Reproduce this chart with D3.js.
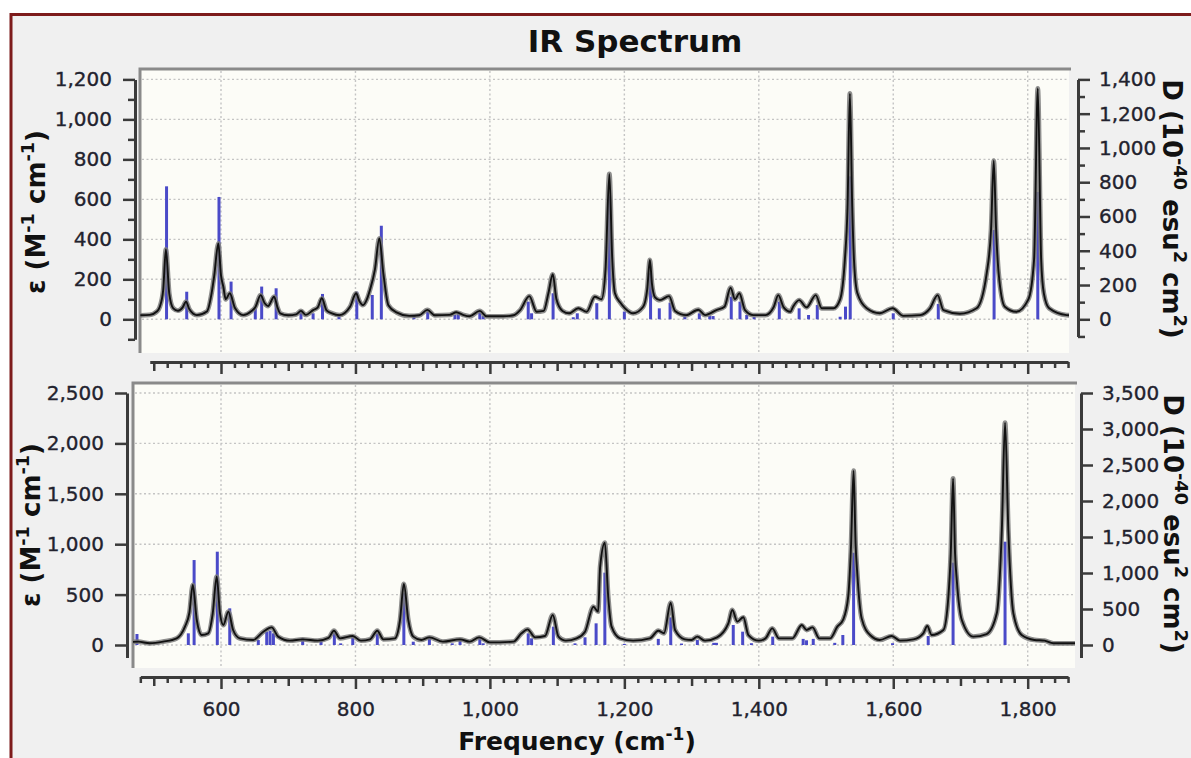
<!DOCTYPE html>
<html><head><meta charset="utf-8">
<script src="https://cdn.jsdelivr.net/npm/d3@7"></script>
<style>
html,body{margin:0;padding:0;background:#fff;}
svg{display:block;}
text{font-family:"DejaVu Sans", Verdana, sans-serif;}
</style></head><body>
<svg id="c" width="1191" height="758"></svg>
<script>
// ---------- DATA ----------
const chartTitle = "IR Spectrum";
const xMajorTicks = [600, 800, 1000, 1200, 1400, 1600, 1800];
const topLeftTicks = [0, 200, 400, 600, 800, 1000, 1200];
const topRightTicks = [0, 200, 400, 600, 800, 1000, 1200, 1400];
const botLeftTicks = [0, 500, 1000, 1500, 2000, 2500];
const botRightTicks = [0, 500, 1000, 1500, 2000, 2500, 3000, 3500];

// upper spectrum: stick [frequency, D]
const topSticks = [[519,776],[549,161],[597,714],[615,220],[651,64],[660.5,191],[682,181],[719,54],[737,35],[751,148],[775.5,31],[802,161],[825,142],[838.5,546],[887,19],[907.5,54],[948,25],[953,35],[985,50],[990,19],[1057,103],[1062,35],[1094,152],[1124,12],[1130,35],[1159,94],[1177.7,717],[1200,45],[1239,269],[1252,64],[1268,97],[1290,19],[1311.5,35],[1327,19],[1332,19],[1359,132],[1372,103],[1382,25],[1393,15],[1430.5,103],[1460,64],[1474,25],[1487,84],[1521,15],[1529,74],[1536,834],[1600,35],[1667,90],[1750,522],[1815,743]];
// upper spectrum: curve [frequency, epsilon]
const topCurve = [[480,20],[494,22],[505,40],[509,63],[514,146],[518,350],[523,130],[529,55],[536,43],[543,60],[548,88],[553,50],[564,21],[579,39],[586,130],[590,220],[596,380],[600,220],[603.5,163],[607,100],[613,130],[621,55],[633,21],[645,40],[651,60],[659,121],[665,80],[670,66],[679,113],[684,60],[688,30],[700,20],[712,25],[719,42],[726,22],[737,46],[744,60],[750,105],[757,45],[765,30],[776,21],[792,63],[801,130],[806,90],[811,71],[817,100],[821.5,146],[829,250],[835.5,405],[841.5,230],[849,70],[861,35],[880,17],[895,20],[907,47],[918,20],[940,22],[950,35],[960,22],[970,15],[985,42],[995,15],[1020,15],[1035,20],[1045,46],[1058.6,116],[1069.5,38],[1080,42],[1087,130],[1093.5,225],[1099,100],[1108,42],[1118,30],[1131.5,55],[1144,38],[1156,113],[1166,100],[1172,250],[1177.7,727],[1182,300],[1186,130],[1193.6,85],[1201,55],[1213,30],[1228,63],[1234,150],[1238,297],[1241,180],[1245.6,110],[1253,96],[1266.5,116],[1275.4,42],[1292,21],[1310,48],[1320,21],[1337,46],[1349,63],[1358,158],[1364.6,100],[1371,130],[1379.5,46],[1392,21],[1410,21],[1422,60],[1429,121],[1437,60],[1447,38],[1451,63],[1460,96],[1471,60],[1484.7,121],[1493.6,55],[1511,55],[1521,100],[1528,297],[1532,560],[1535.5,1130],[1539,560],[1541.6,297],[1546.7,130],[1560.5,55],[1580,30],[1599,55],[1615,17],[1640,21],[1654.7,55],[1666,121],[1674.6,46],[1699,28],[1724,55],[1739,230],[1745.5,450],[1749.5,793],[1753,450],[1756.8,230],[1766,63],[1783,38],[1801,100],[1809.5,300],[1815,1155],[1820,300],[1824,130],[1832,55],[1858,21],[1864,20]];

// lower spectrum: stick [frequency, D]
const botSticks = [[475,153],[551.4,162],[560,1180],[594.5,1296],[613,509],[655.5,69],[668,185],[673,199],[678,162],[721.5,93],[748.8,69],[768.6,171],[778,23],[796,107],[832.5,162],[872,718],[886,46],[910,93],[944,23],[955.6,69],[985,93],[990,23],[1057,162],[1062,93],[1094.4,255],[1126.6,23],[1141.5,107],[1158,301],[1171,1005],[1200,15],[1250.5,85],[1269,384],[1285,20],[1308.6,69],[1333,30],[1337,30],[1362,278],[1376,185],[1389,25],[1420.7,116],[1466,85],[1471,65],[1481,85],[1513,30],[1525,139],[1541,1282],[1599,25],[1652,125],[1689,1144],[1766.3,1435]];
// lower spectrum: curve [frequency, epsilon]
const botCurve = [[468,30],[477,33],[494,17],[514,33],[534,66],[546.4,182],[553,320],[558,595],[564,248],[571.3,99],[581,116],[587.7,314],[593.6,678],[598.5,314],[603.5,198],[611,331],[618,149],[628,66],[648,50],[663,132],[675.4,175],[685,83],[702.6,43],[721.5,56],[744,43],[760,70],[768,142],[777,66],[796,89],[808,43],[821.7,56],[832.5,142],[841.5,56],[858.8,66],[866.3,248],[872,605],[878.6,248],[886,83],[898,50],[910,76],[930,33],[955.6,56],[970,33],[984,76],[1000,26],[1035,33],[1047,116],[1056,155],[1067,76],[1082,89],[1093.5,298],[1102,83],[1113,43],[1129,66],[1141.5,132],[1154,380],[1161,331],[1164,777],[1171,1015],[1176,479],[1181,182],[1193.6,66],[1213,43],[1238,66],[1250.5,142],[1259,116],[1269,420],[1275.4,149],[1290,56],[1300,50],[1308.6,83],[1320,43],[1338,76],[1354.7,215],[1360.6,347],[1368,232],[1377,275],[1384.5,99],[1400,43],[1410,66],[1420,165],[1430,66],[1450,66],[1464,198],[1471,149],[1480,175],[1490,66],[1506,66],[1516.8,182],[1525.7,255],[1533,479],[1537,950],[1541,1729],[1544,1000],[1546.6,700],[1553,264],[1565.5,99],[1580,50],[1597.7,89],[1610,43],[1630,56],[1644.7,116],[1650.7,188],[1657,99],[1674.6,149],[1682,479],[1685.5,900],[1689,1653],[1692,900],[1694.5,645],[1702,248],[1719,83],[1739,109],[1754,314],[1761.5,1141],[1766.3,2206],[1771.2,1141],[1778.7,314],[1791,99],[1810,50],[1825,43],[1838,17],[1856,17],[1872,17]];

// ---------- DRAW ----------
const W = 1191, H = 758;
const svg = d3.select('#c');
svg.append('rect').attr('width', W).attr('height', H).attr('fill', '#ffffff');
svg.append('rect').attr('x', 10).attr('y', 14).attr('width', W - 10).attr('height', H - 14).attr('fill', '#f0f0f0');
svg.append('line').attr('x1', 11).attr('x2', 11).attr('y1', 13).attr('y2', H).attr('stroke', '#7d1b1b').attr('stroke-width', 3);
svg.append('line').attr('x1', 10).attr('x2', W).attr('y1', 14.5).attr('y2', 14.5).attr('stroke', '#7d1b1b').attr('stroke-width', 3);

svg.append('text').attr('x', 635).attr('y', 52).attr('text-anchor', 'middle')
  .attr('font-size', 31).attr('font-weight', 'bold').attr('fill', '#111').text(chartTitle);

const x = d3.scaleLinear().domain([600, 1800]).range([221, 1027.7]);

function rich(t, parts, fs) {
  let up = false;
  parts.forEach(([s, sup]) => {
    const ts = t.append('tspan').text(s);
    if (sup) { ts.attr('font-size', fs * 0.68); if (!up) { ts.attr('dy', -fs * 0.42); up = true; } }
    else if (up) { ts.attr('dy', fs * 0.42); up = false; }
  });
}

const tickColor = '#3a3a3a';
const labelColor = '#22222e';

function styleLabels(sel) {
  sel.attr('font-size', 20).attr('fill', labelColor).attr('stroke', labelColor).attr('stroke-width', 0.35)
    .attr('font-family', '"DejaVu Sans", Verdana, sans-serif');
}

function panel(cfg) {
  const g = svg.append('g');
  const p = cfg.plot;
  const yL = d3.scaleLinear().domain([0, cfg.leftMax]).range([cfg.zeroY, cfg.topY]);
  const yR = d3.scaleLinear().domain([0, cfg.rightMax]).range([cfg.zeroY, cfg.topY]);
  g.append('rect').attr('x', p.x0).attr('y', p.y0).attr('width', p.x1 - p.x0).attr('height', p.y1 - p.y0).attr('fill', '#fcfcf7');
  const clipId = 'clip' + cfg.id;
  svg.append('clipPath').attr('id', clipId).append('rect').attr('x', p.x0).attr('y', p.y0).attr('width', p.x1 - p.x0).attr('height', p.y1 - p.y0);
  const grid = g.append('g').attr('stroke', '#c4c4c4').attr('stroke-width', 1.4).attr('stroke-dasharray', '2,2.5');
  grid.selectAll('line.h').data(cfg.leftTicks).join('line').attr('class', 'h')
    .attr('x1', p.x0 + 2).attr('x2', p.x1).attr('y1', d => yL(d)).attr('y2', d => yL(d));
  grid.selectAll('line.v').data(xMajorTicks).join('line').attr('class', 'v')
    .attr('x1', d => x(d)).attr('x2', d => x(d)).attr('y1', p.y0 + 2).attr('y2', p.y1);
  g.append('path').attr('d', `M${p.x0},${p.y1}V${p.y0}H${p.x1 + 2}`).attr('fill', 'none').attr('stroke', '#8a8a8a').attr('stroke-width', 3);
  const data = g.append('g').attr('clip-path', `url(#${clipId})`);
  data.selectAll('line.stick').data(cfg.sticks).join('line').attr('class', 'stick')
    .attr('x1', d => x(d[0])).attr('x2', d => x(d[0])).attr('y1', yR(0)).attr('y2', d => yR(d[1]))
    .attr('stroke', '#4a4ac8').attr('stroke-width', 3);
  const line = d3.line().x(d => x(d[0])).y(d => yL(d[1])).curve(d3.curveMonotoneX);
  data.append('path').attr('d', line(cfg.curve)).attr('fill', 'none').attr('stroke', '#7a7a7a').attr('stroke-width', 4.8).attr('stroke-opacity', 0.85).attr('stroke-linejoin', 'round');
  data.append('path').attr('d', line(cfg.curve)).attr('fill', 'none').attr('stroke', '#111').attr('stroke-width', 1.9).attr('stroke-linejoin', 'round');

  function vAxis(scale, spine, ticks, minorStep, ax, side) {
    const s = d3.scaleLinear().domain(spine).range(spine.map(scale));
    const mk = side === 'left' ? d3.axisLeft : d3.axisRight;
    const a = g.append('g').attr('transform', `translate(${ax},0)`);
    a.call(mk(s).tickValues(ticks).tickSize(12).tickSizeOuter(0).tickPadding(side === 'left' ? 11 : 9).tickFormat(d3.format(',')));
    if (minorStep) {
      const minors = d3.range(spine[0], spine[1] + 1, minorStep).filter(v => !ticks.includes(v));
      const m = g.append('g').attr('transform', `translate(${ax},0)`);
      m.call(mk(s).tickValues(minors).tickSize(7).tickSizeOuter(0).tickFormat(''));
      m.select('.domain').remove();
      m.selectAll('line').attr('stroke', tickColor).attr('stroke-width', 2.5);
    }
    a.select('.domain').attr('stroke', tickColor).attr('stroke-width', 3);
    a.selectAll('line').attr('stroke', tickColor).attr('stroke-width', 2.5);
    styleLabels(a.selectAll('text'));
  }
  vAxis(yL, cfg.leftSpine, cfg.leftTicks, cfg.leftMinor, cfg.leftAxisX, 'left');
  vAxis(yR, cfg.rightSpine, cfg.rightTicks, cfg.rightMinor, cfg.rightAxisX, 'right');

  const xs = d3.scaleLinear().domain(cfg.xSpine).range(cfg.xSpine.map(x));
  const all = d3.range(Math.ceil(cfg.xSpine[0] / 20) * 20, cfg.xSpine[1] + 1, 20);
  const minor = all.filter(v => v % 100 !== 0);
  const mid = all.filter(v => v % 100 === 0 && v % 200 !== 0);
  const ax = g.append('g').attr('transform', `translate(0,${cfg.xAxisY})`);
  ax.call(d3.axisBottom(xs).tickValues(xMajorTicks).tickSize(12).tickSizeOuter(0).tickPadding(13)
    .tickFormat(cfg.xLabels ? d3.format(',') : ''));
  const ax2 = g.append('g').attr('transform', `translate(0,${cfg.xAxisY})`);
  ax2.call(d3.axisBottom(xs).tickValues(minor).tickSize(6).tickSizeOuter(0).tickFormat(''));
  ax2.select('.domain').remove();
  const ax3 = g.append('g').attr('transform', `translate(0,${cfg.xAxisY})`);
  ax3.call(d3.axisBottom(xs).tickValues(mid).tickSize(9).tickSizeOuter(0).tickFormat(''));
  ax3.select('.domain').remove();
  [ax, ax2, ax3].forEach(a => a.selectAll('line').attr('stroke', tickColor).attr('stroke-width', 2.5));
  ax.select('.domain').attr('stroke', tickColor).attr('stroke-width', 3);
  styleLabels(ax.selectAll('text'));

  const lt = g.append('text').attr('transform', `translate(${cfg.leftTitle[0]},${cfg.leftTitle[1]}) rotate(-90)`)
    .attr('text-anchor', 'middle').attr('dy', '0.35em').attr('font-size', 26).attr('font-weight', 'bold').attr('fill', '#111');
  rich(lt, [['ε (M', false], ['-1', true], [' cm', false], ['-1', true], [')', false]], 26);
  const rt = g.append('text').attr('transform', `translate(${cfg.rightTitle[0]},${cfg.rightTitle[1]}) rotate(90)`)
    .attr('text-anchor', 'middle').attr('dy', '0.35em').attr('font-size', 26).attr('font-weight', 'bold').attr('fill', '#111');
  rich(rt, [['D (10', false], ['-40', true], [' esu', false], ['2', true], [' cm', false], ['2', true], [')', false]], 26);
}

panel({
  id: 'top', plot: { x0: 140, x1: 1069, y0: 69, y1: 353 },
  zeroY: 319.3, topY: 79.4, leftMax: 1200, rightMax: 1400,
  leftTicks: topLeftTicks, rightTicks: topRightTicks, leftMinor: 100, rightMinor: 100,
  leftSpine: [-100, 1200], rightSpine: [-100, 1400],
  leftAxisX: 135, rightAxisX: 1078, xAxisY: 362, xSpine: [494, 1860], xLabels: false,
  sticks: topSticks, curve: topCurve,
  leftTitle: [36, 212], rightTitle: [1172, 209]
});
panel({
  id: 'bot', plot: { x0: 133, x1: 1075, y0: 383, y1: 668 },
  zeroY: 645, topY: 393, leftMax: 2500, rightMax: 3500,
  leftTicks: botLeftTicks, rightTicks: botRightTicks, leftMinor: 0, rightMinor: 0,
  leftSpine: [-125, 2500], rightSpine: [-175, 3500],
  leftAxisX: 127, rightAxisX: 1081, xAxisY: 677, xSpine: [480, 1860], xLabels: true,
  sticks: botSticks, curve: botCurve,
  leftTitle: [31, 525], rightTitle: [1173, 524]
});

const ft = svg.append('text').attr('x', 577).attr('y', 750).attr('text-anchor', 'middle')
  .attr('font-size', 25).attr('font-weight', 'bold').attr('fill', '#111');
rich(ft, [['Frequency (cm', false], ['-1', true], [')', false]], 25);
</script>
</body></html>
